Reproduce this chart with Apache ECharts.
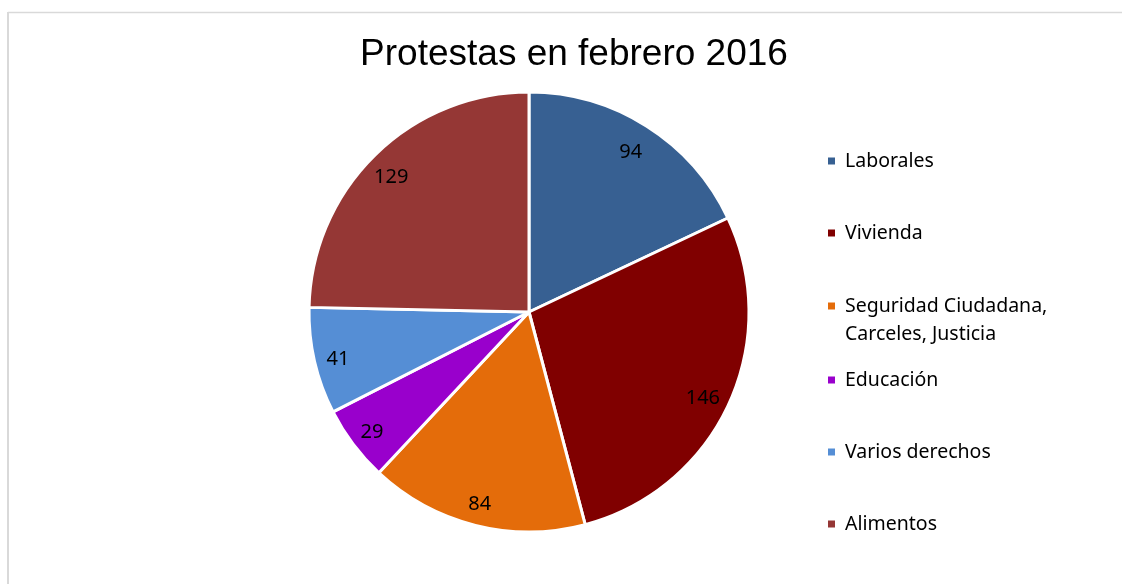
<!DOCTYPE html>
<html>
<head>
<meta charset="utf-8">
<script src="https://cdn.jsdelivr.net/npm/echarts@6/dist/echarts.min.js"></script>
<style>
  html, body { margin: 0; padding: 0; background: #fff; }
  #container { width: 1122px; height: 584px; }
</style>
</head>
<body>
<div id="container"></div>
<script>
const titleText = 'Protestas en febrero 2016'
const categories = [
  'Laborales',
  'Vivienda',
  'Seguridad Ciudadana, Carceles, Justicia',
  'Educación',
  'Varios derechos',
  'Alimentos'
]
const values = [94, 146, 84, 29, 41, 129]
const colors = ['#376092', '#800000', '#E46C0A', '#9900CC', '#558ED5', '#953735']

const pieData = categories.map((name, i) => ({ name: name, value: values[i] }))

const legendText = {
  fontFamily: 'Noto Sans',
  fontSize: 19.5,
  lineHeight: 28,
  color: '#000',
  padding: [0, 0, 0, 4]
}

function legendBase (data, top, gap) {
  return {
    orient: 'vertical',
    left: 821,
    top: top,
    itemGap: gap,
    icon: 'rect',
    itemWidth: 9,
    itemHeight: 9,
    selectedMode: false,
    textStyle: legendText,
    data: data
  }
}

const chart = echarts.init(document.getElementById('container'))
chart.setOption({
  backgroundColor: '#fff',
  color: colors,
  animation: false,
  title: {
    text: titleText,
    left: 569,
    textAlign: 'center',
    top: 31,
    textStyle: {
      fontFamily: 'Liberation Sans',
      fontSize: 37,
      fontWeight: 'normal',
      color: '#000'
    }
  },
  graphic: [
    {
      type: 'line',
      shape: { x1: 8, y1: 12.5, x2: 1122, y2: 12.5 },
      style: { stroke: '#d9d9d9', lineWidth: 1.5 }
    },
    {
      type: 'line',
      shape: { x1: 8, y1: 12, x2: 8, y2: 584 },
      style: { stroke: '#d9d9d9', lineWidth: 2 }
    }
  ],
  legend: [
    legendBase(categories.slice(0, 2), 142, 44),
    Object.assign(legendBase(categories.slice(2, 3), 259, 0), {
      // first line sits level with the marker, second line hangs below
      formatter: () => '\nSeguridad Ciudadana,\nCarceles, Justicia'
    }),
    legendBase(categories.slice(3), 361, 44)
  ],
  series: [
    {
      name: 'protestas',
      type: 'pie',
      center: [529, 312],
      radius: [0, 220],
      startAngle: 90,
      clockwise: true,
      label: { show: false },
      labelLine: { show: false },
      itemStyle: { borderColor: '#fff', borderWidth: 3 },
      emphasis: { disabled: true },
      data: pieData
    },
    {
      // transparent copy, only to put the value labels near the rim
      name: 'labels',
      type: 'pie',
      center: [529, 312],
      radius: [0, 382],
      startAngle: 90,
      clockwise: true,
      silent: true,
      itemStyle: { color: 'transparent', borderWidth: 0 },
      label: {
        show: true,
        position: 'inside',
        formatter: '{c}',
        fontFamily: 'Noto Sans',
        fontSize: 20,
        color: '#000',
        offset: [-2, 4]
      },
      labelLine: { show: false },
      emphasis: { disabled: true },
      data: pieData
    }
  ]
})
</script>
</body>
</html>
